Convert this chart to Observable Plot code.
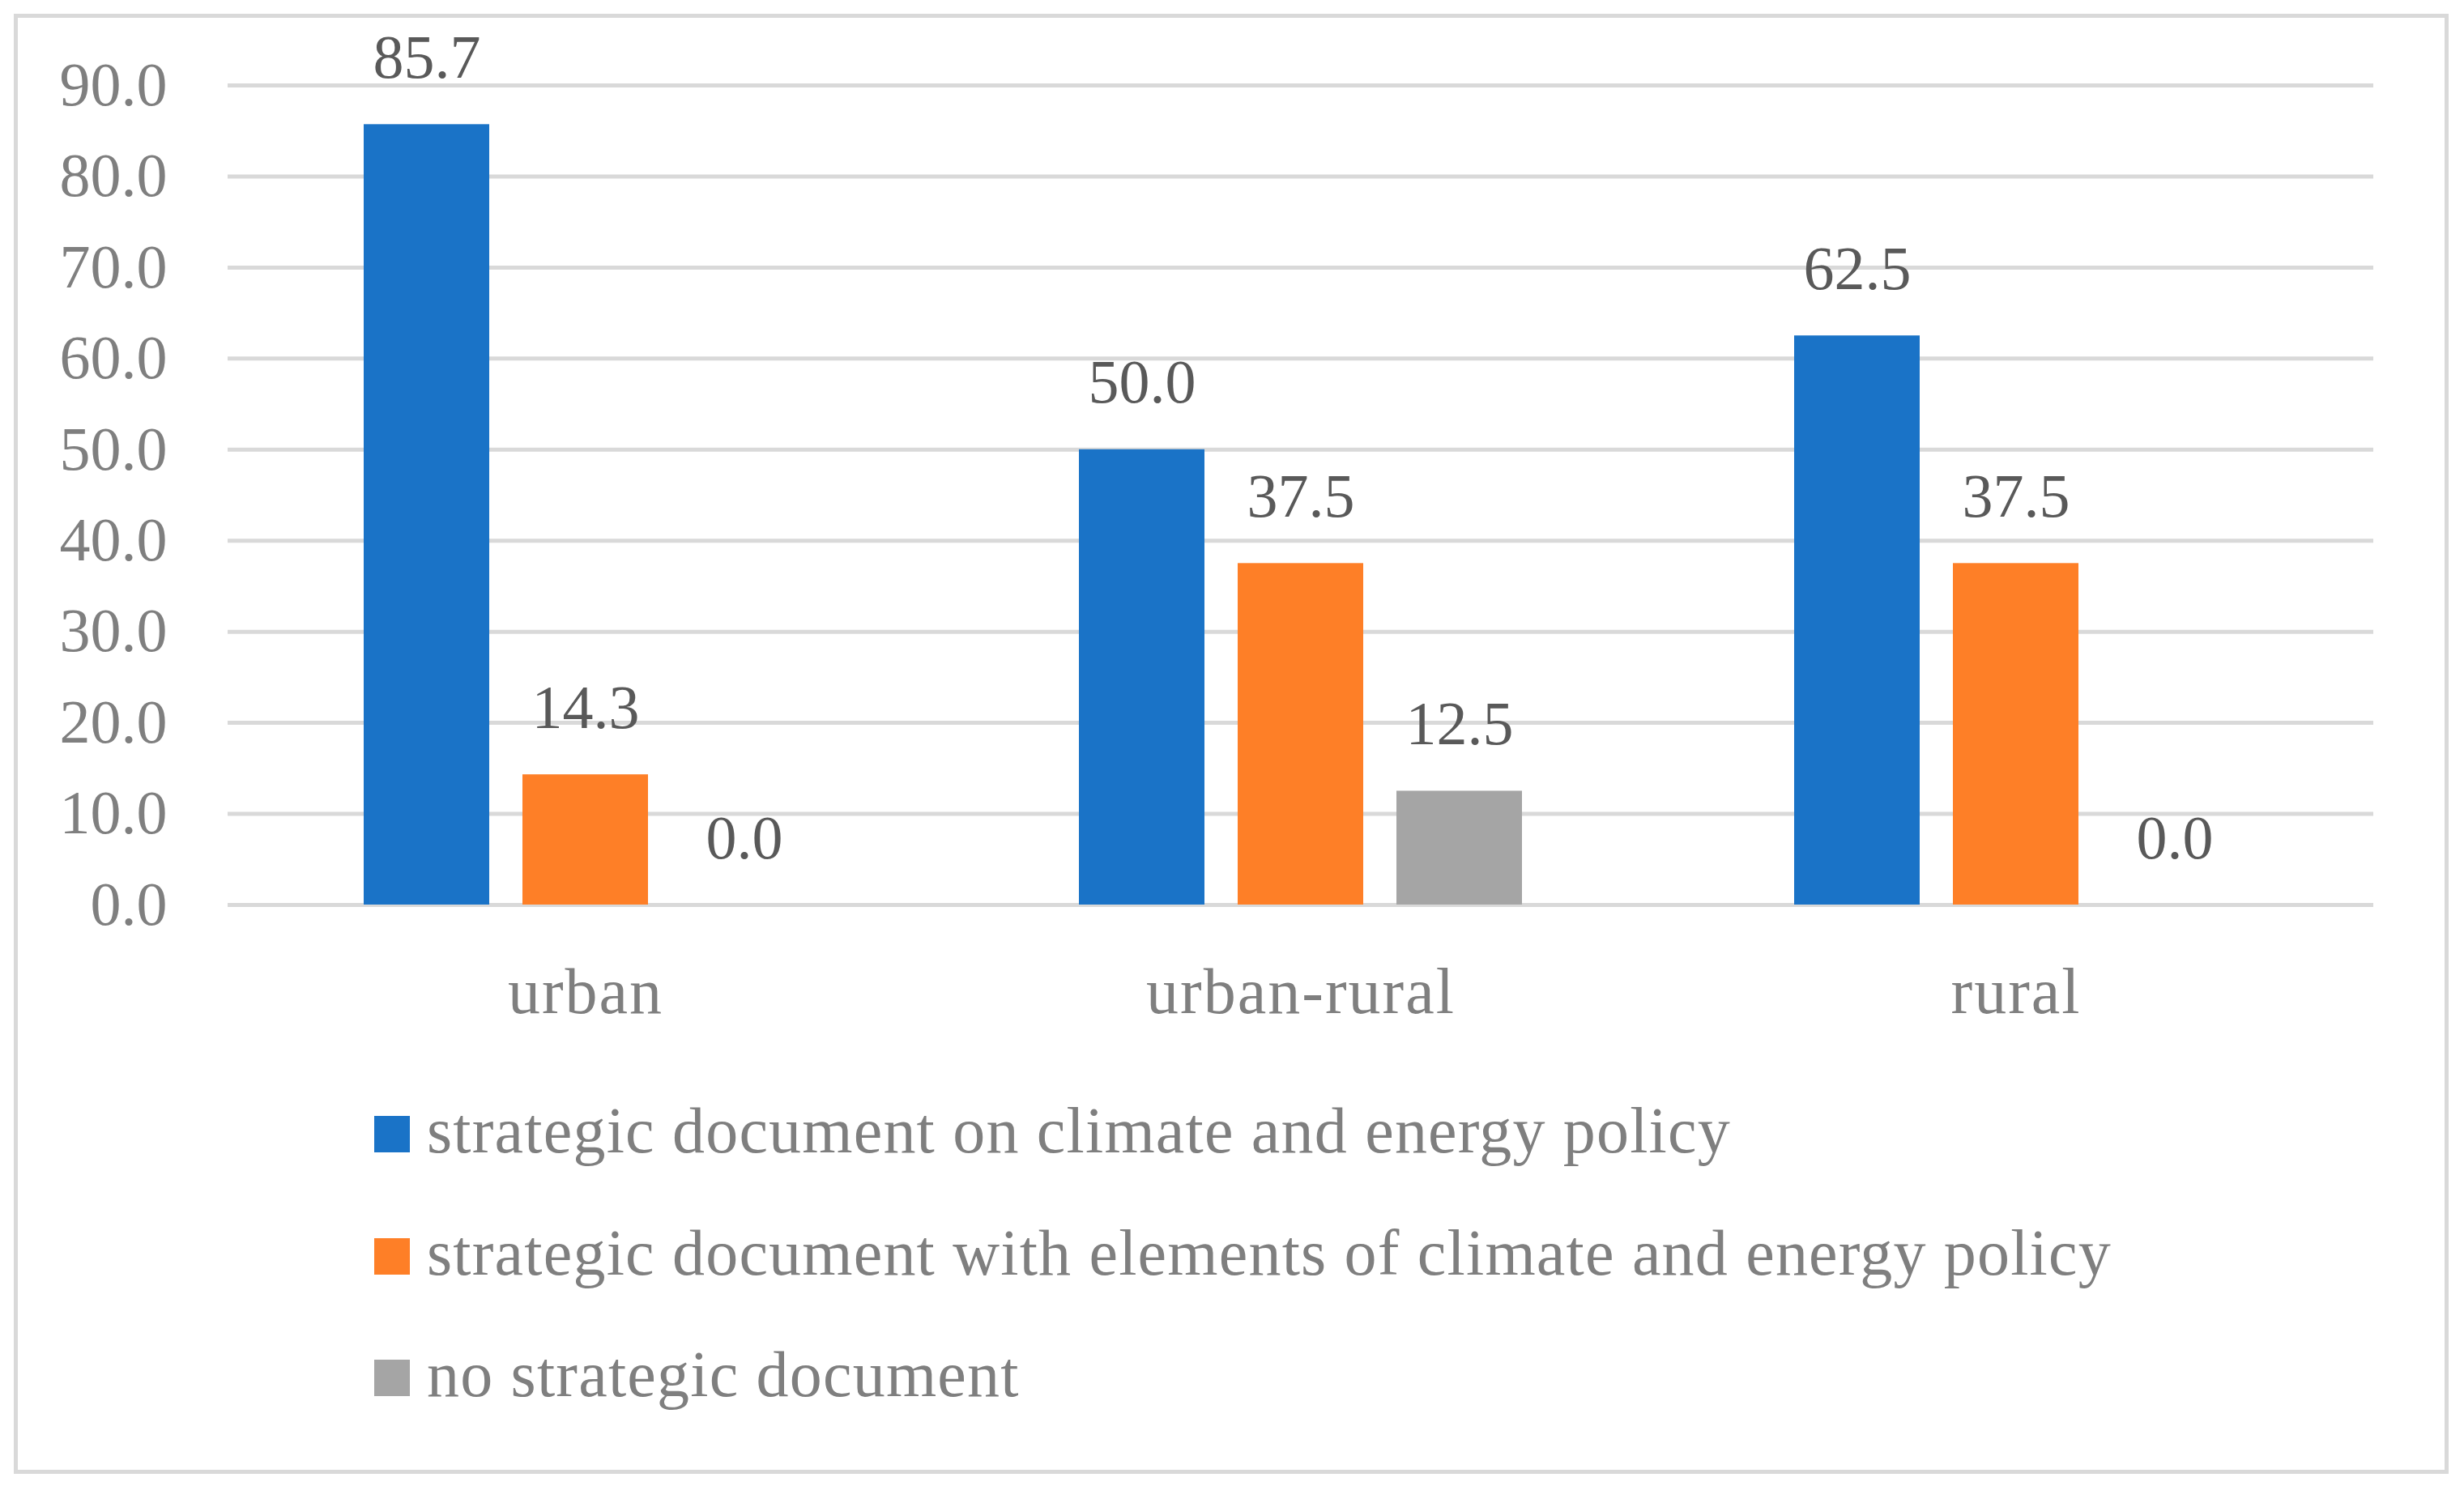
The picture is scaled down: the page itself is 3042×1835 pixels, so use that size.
<!DOCTYPE html>
<html>
<head>
<meta charset="utf-8">
<script src="https://cdn.jsdelivr.net/npm/d3@7"></script>
<script src="https://cdn.jsdelivr.net/npm/@observablehq/plot@0.6"></script>
<style>
  html, body { margin: 0; padding: 0; background: #fff; }
  #frame { position: absolute; left: 17px; top: 17px; width: 2996px; height: 1793px; border: 5px solid #d9d9d9; z-index: 5; pointer-events: none; }
  #chart { position: absolute; left: 0; top: 0; }
  .sw { position: absolute; width: 44px; height: 45px; }
  .lt { position: absolute; font-family: "Liberation Serif", serif; font-size: 80px; line-height: 80px; letter-spacing: 1.2px; color: #7f7f7f; white-space: nowrap; }
</style>
</head>
<body>
<div id="chart"></div>
<div id="legend"></div>
<div id="frame"></div>
<script>
const categories = ["urban", "urban-rural", "rural"];
const series = [
  "strategic document on climate and energy policy",
  "strategic document with elements of climate and energy policy",
  "no strategic document"
];
const climateEnergyPolicy = [85.7, 50.0, 62.5];
const withElements = [14.3, 37.5, 37.5];
const noDocument = [0.0, 12.5, 0.0];
const yTicks = [0, 10, 20, 30, 40, 50, 60, 70, 80, 90];
const colors = ["#1a73c7", "#fe7f27", "#a5a5a5"];

const seriesValues = [climateEnergyPolicy, withElements, noDocument];
const data = [];
categories.forEach((c, i) => {
  series.forEach((s, j) => {
    data.push({category: c, series: s, value: seriesValues[j][i]});
  });
});

const chart = Plot.plot({
  width: 3042,
  height: 1290,
  marginLeft: 281,
  marginRight: 112,
  marginTop: 105,
  marginBottom: 173,
  style: {fontFamily: "Liberation Serif", background: "transparent"},
  fx: {domain: categories, paddingInner: 0, paddingOuter: 0, label: null},
  x: {domain: series, paddingInner: 0.21, paddingOuter: 0.857, axis: null},
  y: {domain: [0, 90], label: null},
  color: {domain: series, range: colors},
  marks: [
    Plot.ruleY(yTicks, {stroke: "#d9d9d9", strokeWidth: 5}),
    Plot.barY(data, {fx: "category", x: "series", y: "value", fill: "series"}),
    Plot.text(data, {fx: "category", x: "series", y: "value", text: d => d.value.toFixed(1),
      dy: -58, lineAnchor: "bottom", fill: "#595959", fontSize: 76}),
    Plot.axisY(yTicks, {tickSize: 0, tickPadding: 75, fontSize: 76, color: "#7f7f7f",
      tickFormat: d => d.toFixed(1), label: null}),
    Plot.axisFx({anchor: "bottom", tickSize: 0, tickPadding: 77, fontSize: 80, color: "#7f7f7f", label: null})
  ]
});
document.getElementById("chart").appendChild(chart);
d3.select(chart).selectAll("g[aria-label='fx-axis tick label'] text").style("letter-spacing", "2px");

const legend = document.getElementById("legend");
const swTops = [1378, 1529, 1679];
series.forEach((s, j) => {
  const sw = document.createElement("div");
  sw.className = "sw";
  sw.style.left = "462px";
  sw.style.top = swTops[j] + "px";
  sw.style.background = colors[j];
  legend.appendChild(sw);
  const t = document.createElement("div");
  t.className = "lt";
  t.style.left = "527px";
  t.style.top = (swTops[j] - 22) + "px";
  t.textContent = s;
  legend.appendChild(t);
});
</script>
</body>
</html>
